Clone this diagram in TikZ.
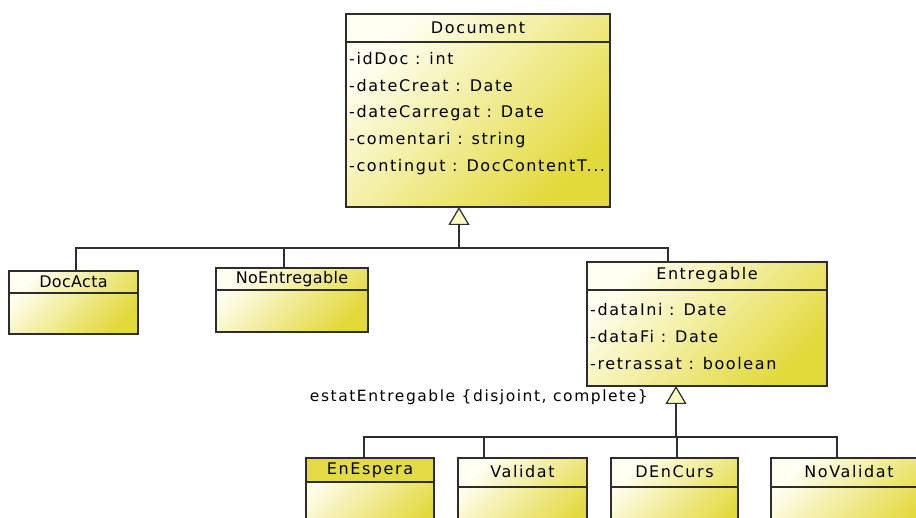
\documentclass[tikz,border=0pt]{standalone}
\usepackage{fontspec}
\setmainfont{DejaVu Sans}[LetterSpace=10]
\newfontfamily\tightfont{DejaVu Sans}[LetterSpace=2]
\usetikzlibrary{arrows.meta}

\definecolor{umlYellow}{RGB}{226,217,58}
\definecolor{umlLight}{RGB}{255,255,242}
\definecolor{umlLine}{RGB}{45,45,45}
\definecolor{umlTri}{RGB}{250,250,195}

% truncated type name
\newcommand{\cutdots}{...}

\tikzset{
  classbox/.style={draw=umlLine, line width=1.2pt, outer sep=0pt, inner sep=0pt,
    top color=umlLight, bottom color=umlYellow, shading angle=45},
  classname/.style={inner sep=0pt, font=\fontsize{16}{18}\selectfont},
  attr/.style={anchor=west, inner sep=0pt, font=\fontsize{16}{18}\selectfont},
  genline/.style={draw=umlLine, line width=1.2pt},
  genarrow/.style={genline, -{Triangle[open, length=18pt, width=21pt, fill=umlTri, line width=1.2pt]}},
}

\begin{document}
\begin{tikzpicture}[x=1pt, y=-1pt]
  \useasboundingbox (0,0) rectangle (916,518);
  \clip (0,0) rectangle (916,518);

  % classes
  \node[classbox, minimum width=264pt, minimum height=193pt] (document) at (478,110.5) {};
  \node[classbox, minimum width=129pt, minimum height=63pt] (docacta) at (73.5,302.5) {};
  \node[classbox, minimum width=152pt, minimum height=64pt] (noentregable) at (292,300) {};
  \node[classbox, minimum width=240pt, minimum height=124pt] (entregable) at (707,324) {};
  \node[classbox, minimum width=128pt, minimum height=82pt] (enespera) at (370,499) {};
  \node[classbox, minimum width=129pt, minimum height=82pt] (validat) at (522.5,499) {};
  \node[classbox, minimum width=127pt, minimum height=82pt] (dencurs) at (674.5,499) {};
  \node[classbox, minimum width=156pt, minimum height=82pt] (novalidat) at (849,499) {};

  % selected class: filled header
  \draw[genline, fill=umlYellow!95!white] (enespera.north west) rectangle ([yshift=-24pt]enespera.north east);

  % header separators
  \foreach \n/\h in {document/28, docacta/22, noentregable/22, entregable/28,
                     validat/29, dencurs/29, novalidat/29}
    \draw[genline] ([yshift=-\h pt]\n.north west) -- ([yshift=-\h pt]\n.north east);

  % class names
  \node[classname] at ([yshift=-14pt]document.north) {Document};
  \node[classname, font=\tightfont\fontsize{16}{18}\selectfont] at ([yshift=-11pt]docacta.north) {DocActa};
  \node[classname, font=\tightfont\fontsize{16}{18}\selectfont] at ([yshift=-11pt]noentregable.north) {NoEntregable};
  \node[classname] at ([yshift=-13pt]entregable.north) {Entregable};
  \node[classname] at ([yshift=-12pt]enespera.north) {EnEspera};
  \node[classname] at ([yshift=-14pt]validat.north) {Validat};
  \node[classname] at ([yshift=-14pt]dencurs.north) {DEnCurs};
  \node[classname] at ([yshift=-14pt]novalidat.north) {NoValidat};

  % attributes
  \foreach \a [count=\i from 0] in {-idDoc : int, -dateCreat : Date, -dateCarregat : Date,
                                    -comentari : string, -contingut : DocContentT\cutdots}
    \node[attr] at ([xshift=3pt, yshift=-45pt-27*\i pt]document.north west) {\a};
  \foreach \a [count=\i from 0] in {-dataIni : Date, -dataFi : Date, -retrassat : boolean}
    \node[attr] at ([xshift=3pt, yshift=-48pt-27*\i pt]entregable.north west) {\a};

  % generalisation Document
  \coordinate (docjoin) at (459,248);
  \draw[genarrow] (docjoin) -- (docjoin |- document.south);
  \draw[genline] ([xshift=2.5pt]docacta.north) |- (docjoin);
  \draw[genline] ([xshift=-8pt]noentregable.north) |- (docjoin);
  \draw[genline] ([xshift=-39pt]entregable.north) |- (docjoin);

  % generalisation Entregable
  \coordinate (entjoin) at (676,437);
  \draw[genarrow] (entjoin) -- (entjoin |- entregable.south);
  \draw[genline] ([xshift=-6pt]enespera.north) |- (entjoin);
  \draw[genline] ([xshift=-38.5pt]validat.north) |- (entjoin);
  \draw[genline] ([xshift=2.5pt]dencurs.north) |- (entjoin);
  \draw[genline] ([xshift=-12pt]novalidat.north) |- (entjoin);
  \node[anchor=east, inner sep=0pt, font=\fontsize{15.5}{18}\selectfont] (estatlabel)
    at ([xshift=-59pt, yshift=-11pt]entregable.south) {estatEntregable \{disjoint, complete\}};
\end{tikzpicture}
\end{document}
